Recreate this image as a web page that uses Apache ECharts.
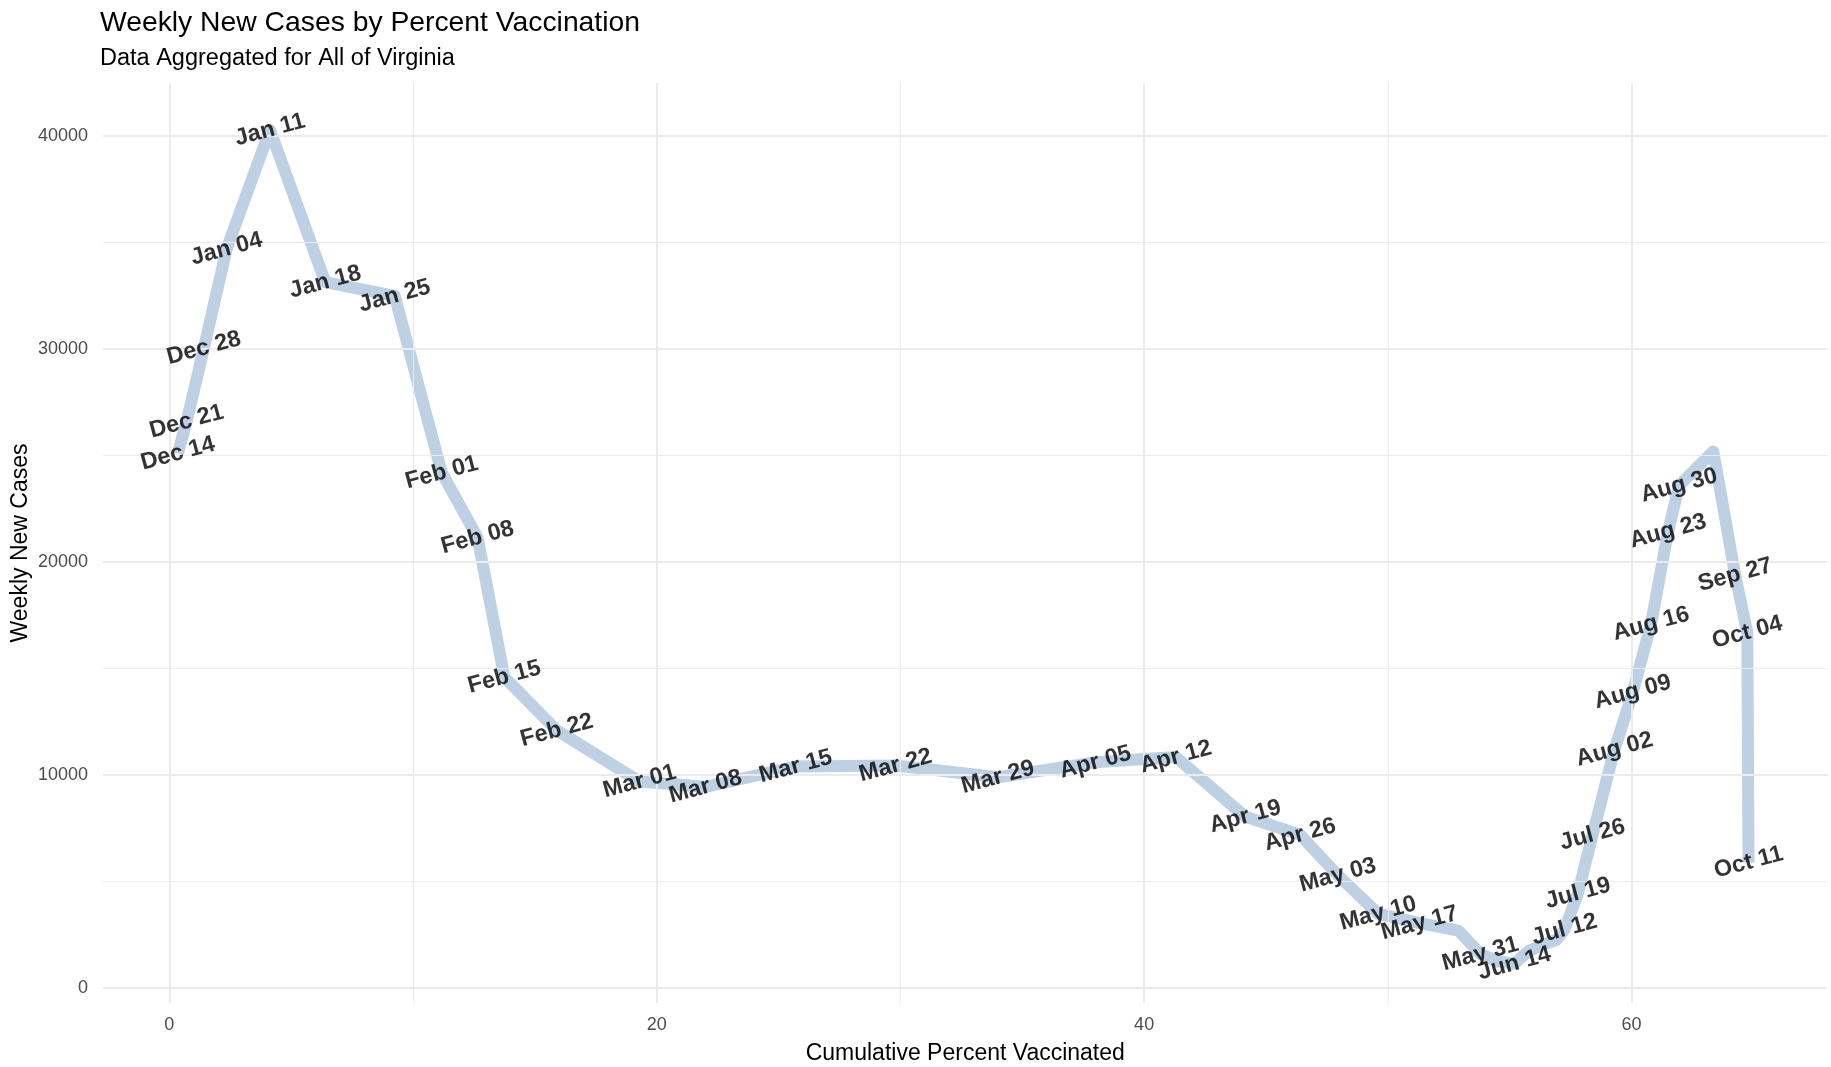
<!DOCTYPE html>
<html>
<head>
<meta charset="utf-8">
<title>Weekly New Cases by Percent Vaccination</title>
<script src="https://cdn.jsdelivr.net/npm/echarts@6/dist/echarts.min.js"></script>
<style>
  html, body { margin: 0; padding: 0; background: #fff; }
  #chart { width: 1831px; height: 1067px; }
</style>
</head>
<body>
<div id="chart"></div>
<script>
// week starting dates
var weekLabels = ['Dec 14', 'Dec 21', 'Dec 28', 'Jan 04', 'Jan 11', 'Jan 18', 'Jan 25',
  'Feb 01', 'Feb 08', 'Feb 15', 'Feb 22', 'Mar 01', 'Mar 08', 'Mar 15', 'Mar 22', 'Mar 29',
  'Apr 05', 'Apr 12', 'Apr 19', 'Apr 26', 'May 03', 'May 10', 'May 17', 'May 24', 'May 31',
  'Jun 07', 'Jun 14', 'Jun 21', 'Jun 28', 'Jul 05', 'Jul 12', 'Jul 19', 'Jul 26', 'Aug 02',
  'Aug 09', 'Aug 16', 'Aug 23', 'Aug 30', 'Sep 06', 'Sep 13', 'Sep 20', 'Sep 27', 'Oct 04', 'Oct 11'];
// cumulative percent vaccinated (x)
var pctVaccinated = [0.35, 0.71, 1.42, 2.35, 4.13, 6.4, 9.25,
  11.18, 12.65, 13.75, 15.9, 19.3, 22.0, 25.7, 29.8, 34.0,
  38.0, 41.3, 44.15, 46.4, 47.95, 49.6, 51.3, 52.9, 53.8,
  54.5, 55.2, 55.8, 56.4, 56.9, 57.25, 57.8, 58.4, 59.3,
  60.05, 60.8, 61.5, 61.95, 63.35, 63.65, 63.95, 64.25, 64.75, 64.8];
// weekly new cases (y)
var weeklyCases = [25100, 26600, 30050, 34700, 40300, 33150, 32500,
  24200, 21150, 14600, 12100, 9700, 9450, 10400, 10450, 9900,
  10600, 10850, 8050, 7200, 5300, 3500, 3050, 2700, 1600,
  1250, 1150, 1750, 2050, 2250, 2750, 4450, 7200, 11200,
  13900, 17100, 21450, 23600, 25200, 23300, 21350, 19400, 16700, 5900];
// labels dropped because they overlapped
var hiddenLabels = ['May 24', 'Jun 07', 'Jun 21', 'Jun 28', 'Jul 05', 'Sep 06', 'Sep 13', 'Sep 20'];

var xMajorTicks = [0, 20, 40, 60];
var xMinorTicks = [10, 30, 50];
var yMajorTicks = [0, 10000, 20000, 30000, 40000];
var yMinorTicks = [5000, 15000, 25000, 35000];

var fontFam = 'Liberation Sans, Arial, sans-serif';

var lineData = [];
var labelData = [];
for (var i = 0; i < weekLabels.length; i++) {
  lineData.push([pctVaccinated[i], weeklyCases[i]]);
  labelData.push({
    name: weekLabels[i],
    value: [pctVaccinated[i], weeklyCases[i]],
    label: { show: hiddenLabels.indexOf(weekLabels[i]) < 0 }
  });
}

// grid lines (ggplot-like panel grid)
var gridLines = [];
xMajorTicks.forEach(function (v) { gridLines.push({ xAxis: v, lineStyle: { width: 2 } }); });
xMinorTicks.forEach(function (v) { gridLines.push({ xAxis: v, lineStyle: { width: 1 } }); });
yMajorTicks.forEach(function (v) { gridLines.push({ yAxis: v, lineStyle: { width: 2 } }); });
yMinorTicks.forEach(function (v) { gridLines.push({ yAxis: v, lineStyle: { width: 1 } }); });

var myChart = echarts.init(document.getElementById('chart'));
var option = {
  backgroundColor: '#ffffff',
  animation: false,
  title: [{
    text: 'Weekly New Cases by Percent Vaccination',
    left: 100, top: 9, padding: 0,
    textStyle: { fontFamily: fontFam, fontSize: 28.3, fontWeight: 'normal', color: '#000' }
  }, {
    text: 'Data Aggregated for All of Virginia',
    left: 100, top: 47, padding: 0,
    textStyle: { fontFamily: fontFam, fontSize: 23.5, fontWeight: 'normal', color: '#000' }
  }],
  grid: { left: 103, right: 3.5, top: 83, bottom: 64, containLabel: false, outerBoundsMode: 'none' },
  xAxis: {
    type: 'value',
    min: -2.72, max: 68.04,
    name: 'Cumulative Percent Vaccinated',
    nameLocation: 'middle',
    nameGap: 39,
    nameTextStyle: { fontFamily: fontFam, fontSize: 23, color: '#000' },
    axisLine: { show: false },
    axisTick: { show: false },
    splitLine: { show: false },
    axisLabel: {
      customValues: xMajorTicks,
      margin: 13,
      fontFamily: fontFam, fontSize: 18, color: '#4d4d4d'
    }
  },
  yAxis: {
    type: 'value',
    min: -700, max: 42500,
    name: 'Weekly New Cases',
    nameLocation: 'middle',
    nameRotate: 90,
    nameGap: 71,
    nameMoveOverlap: false,
    nameTextStyle: { fontFamily: fontFam, fontSize: 23, color: '#000' },
    axisLine: { show: false },
    axisTick: { show: false },
    splitLine: { show: false },
    axisLabel: {
      customValues: yMajorTicks,
      margin: 15,
      formatter: function (v) { return String(v); },
      fontFamily: fontFam, fontSize: 18, color: '#4d4d4d'
    }
  },
  series: [{
    name: 'grid',
    type: 'line',
    data: [],
    z: 0,
    silent: true,
    markLine: {
      silent: true,
      symbol: 'none',
      label: { show: false },
      lineStyle: { color: '#ebebeb', type: 'solid', width: 1 },
      emphasis: { disabled: true },
      data: gridLines
    }
  }, {
    name: 'Weekly New Cases',
    type: 'line',
    data: lineData,
    showSymbol: false,
    z: 2,
    lineStyle: { color: '#bed0e4', width: 12, join: 'round', cap: 'butt' }
  }, {
    name: 'labels',
    type: 'scatter',
    data: labelData,
    symbolSize: 2,
    zlevel: 1,
    z: 5,
    itemStyle: { color: 'rgba(0,0,0,0)' },
    label: {
      show: true,
      formatter: '{b}',
      position: 'inside',
      rotate: 15,
      align: 'center',
      verticalAlign: 'middle',
      fontFamily: fontFam,
      fontSize: 23.5,
      fontWeight: 'bold',
      color: '#000',
      textBorderWidth: 0
    }
  }]
};
myChart.setOption(option);
window.addEventListener('resize', function () {
  myChart.resize();
});
</script>
</body>
</html>
